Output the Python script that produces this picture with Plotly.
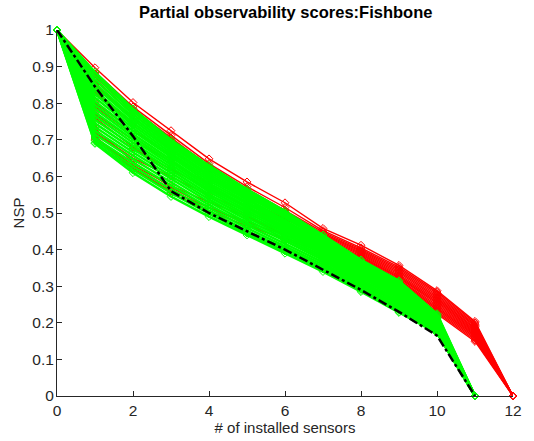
import plotly.graph_objects as go

title_text = "Partial observability scores:Fishbone"
x_title = "# of installed sensors"
y_title = "NSP"

x_red = [0, 1, 2, 3, 4, 5, 6, 7, 8, 9, 10, 11, 12]
x_green = [0, 1, 2, 3, 4, 5, 6, 7, 8, 9, 10, 11]

red_series = [
    [1, 0.897, 0.802, 0.725, 0.648, 0.585, 0.528, 0.458, 0.412, 0.357, 0.288, 0.204, 0],
    [1, 0.885, 0.790, 0.712, 0.635, 0.572, 0.515, 0.452, 0.405, 0.352, 0.284, 0.200, 0],
    [1, 0.880, 0.783, 0.705, 0.628, 0.566, 0.508, 0.448, 0.401, 0.348, 0.280, 0.196, 0],
    [1, 0.872, 0.776, 0.698, 0.622, 0.560, 0.503, 0.444, 0.398, 0.344, 0.276, 0.193, 0],
    [1, 0.862, 0.770, 0.692, 0.617, 0.556, 0.498, 0.441, 0.395, 0.340, 0.272, 0.190, 0],
    [1, 0.850, 0.760, 0.685, 0.612, 0.550, 0.494, 0.438, 0.392, 0.336, 0.268, 0.186, 0],
    [1, 0.830, 0.745, 0.675, 0.605, 0.545, 0.490, 0.434, 0.389, 0.332, 0.264, 0.183, 0],
    [1, 0.800, 0.725, 0.660, 0.595, 0.538, 0.484, 0.430, 0.386, 0.328, 0.260, 0.180, 0],
    [1, 0.770, 0.700, 0.640, 0.580, 0.528, 0.478, 0.426, 0.383, 0.325, 0.256, 0.177, 0],
    [1, 0.745, 0.675, 0.620, 0.565, 0.518, 0.470, 0.422, 0.380, 0.322, 0.252, 0.174, 0],
    [1, 0.720, 0.650, 0.600, 0.548, 0.505, 0.460, 0.418, 0.378, 0.318, 0.248, 0.171, 0],
    [1, 0.705, 0.630, 0.575, 0.530, 0.490, 0.450, 0.413, 0.375, 0.315, 0.244, 0.168, 0],
    [1, 0.700, 0.622, 0.560, 0.515, 0.475, 0.440, 0.408, 0.373, 0.312, 0.240, 0.165, 0],
    [1, 0.710, 0.620, 0.555, 0.505, 0.465, 0.430, 0.403, 0.372, 0.309, 0.236, 0.161, 0],
    [1, 0.730, 0.640, 0.570, 0.515, 0.470, 0.425, 0.398, 0.371, 0.306, 0.232, 0.157, 0],
    [1, 0.760, 0.680, 0.610, 0.545, 0.490, 0.440, 0.394, 0.370, 0.303, 0.228, 0.153, 0],
    [1, 0.790, 0.715, 0.645, 0.575, 0.515, 0.460, 0.392, 0.370, 0.300, 0.224, 0.149, 0],
]

green_series = [
    [1, 0.885, 0.785, 0.700, 0.630, 0.565, 0.505, 0.440, 0.372, 0.315, 0.225, 0],
    [1, 0.875, 0.778, 0.694, 0.624, 0.560, 0.500, 0.436, 0.368, 0.311, 0.222, 0],
    [1, 0.865, 0.770, 0.688, 0.618, 0.555, 0.496, 0.432, 0.364, 0.308, 0.220, 0],
    [1, 0.855, 0.762, 0.682, 0.612, 0.550, 0.491, 0.428, 0.360, 0.304, 0.217, 0],
    [1, 0.845, 0.755, 0.676, 0.606, 0.545, 0.487, 0.424, 0.356, 0.300, 0.215, 0],
    [1, 0.835, 0.747, 0.670, 0.600, 0.540, 0.482, 0.420, 0.352, 0.296, 0.212, 0],
    [1, 0.825, 0.740, 0.664, 0.594, 0.535, 0.478, 0.416, 0.348, 0.292, 0.210, 0],
    [1, 0.815, 0.732, 0.658, 0.588, 0.530, 0.473, 0.412, 0.344, 0.288, 0.207, 0],
    [1, 0.805, 0.724, 0.652, 0.582, 0.525, 0.468, 0.408, 0.340, 0.284, 0.204, 0],
    [1, 0.795, 0.716, 0.645, 0.576, 0.519, 0.463, 0.404, 0.336, 0.280, 0.201, 0],
    [1, 0.785, 0.708, 0.638, 0.570, 0.513, 0.458, 0.400, 0.332, 0.276, 0.198, 0],
    [1, 0.775, 0.700, 0.631, 0.564, 0.507, 0.453, 0.396, 0.328, 0.272, 0.195, 0],
    [1, 0.765, 0.692, 0.624, 0.558, 0.501, 0.448, 0.391, 0.324, 0.268, 0.192, 0],
    [1, 0.755, 0.684, 0.617, 0.551, 0.495, 0.442, 0.386, 0.319, 0.263, 0.189, 0],
    [1, 0.745, 0.675, 0.609, 0.544, 0.488, 0.436, 0.381, 0.314, 0.258, 0.186, 0],
    [1, 0.735, 0.666, 0.601, 0.537, 0.481, 0.430, 0.376, 0.309, 0.253, 0.183, 0],
    [1, 0.725, 0.657, 0.593, 0.530, 0.474, 0.424, 0.371, 0.304, 0.248, 0.180, 0],
    [1, 0.715, 0.647, 0.584, 0.522, 0.467, 0.417, 0.365, 0.299, 0.243, 0.178, 0],
    [1, 0.705, 0.637, 0.575, 0.514, 0.459, 0.410, 0.359, 0.296, 0.238, 0.176, 0],
    [1, 0.698, 0.627, 0.565, 0.506, 0.451, 0.403, 0.353, 0.292, 0.234, 0.174, 0],
    [1, 0.692, 0.618, 0.555, 0.498, 0.445, 0.396, 0.347, 0.288, 0.230, 0.173, 0],
    [1, 0.690, 0.610, 0.545, 0.490, 0.440, 0.390, 0.340, 0.285, 0.228, 0.172, 0],
]

black_series = [1, 0.845, 0.710, 0.560, 0.500, 0.450, 0.400, 0.345, 0.290, 0.230, 0.165, 0]

x_ticks = [0, 2, 4, 6, 8, 10, 12]
y_ticks = [0, 0.1, 0.2, 0.3, 0.4, 0.5, 0.6, 0.7, 0.8, 0.9, 1]

fig = go.Figure()

for ys in red_series:
    fig.add_trace(go.Scatter(
        x=x_red, y=ys, mode="lines+markers",
        line=dict(color="#ff0000", width=1.4),
        marker=dict(symbol="diamond-open", size=6, color="#ff0000", line=dict(width=1)),
        cliponaxis=False, hoverinfo="skip"))

for ys in green_series:
    fig.add_trace(go.Scatter(
        x=x_green, y=ys, mode="lines+markers",
        line=dict(color="#00ff00", width=2.5),
        marker=dict(symbol="diamond-open", size=6, color="#00ff00", line=dict(width=1)),
        cliponaxis=False, hoverinfo="skip"))

fig.add_trace(go.Scatter(
    x=x_green, y=black_series, mode="lines",
    line=dict(color="#000000", width=2.5, dash="dashdot"),
    cliponaxis=False, hoverinfo="skip"))

font_family = "Liberation Sans, Arial, Helvetica, sans-serif"
axis_color = "#262626"

fig.update_layout(
    width=534, height=441,
    margin=dict(l=57, r=20, t=30, b=42),
    paper_bgcolor="white", plot_bgcolor="white",
    showlegend=False,
    font=dict(family=font_family, size=14, color=axis_color),
    title=dict(text="<b>" + title_text + "</b>", x=0.535, xanchor="center",
               y=0.972, yanchor="middle", font=dict(size=16.5, color="#000000")),
)

fig.update_xaxes(
    range=[0, 12], tickvals=x_ticks, ticktext=[str(v) for v in x_ticks],
    showline=True, linecolor=axis_color, linewidth=1,
    ticks="inside", ticklen=5, tickcolor=axis_color,
    showgrid=False, zeroline=False, tickfont=dict(size=15.5),
    title=dict(text=x_title, standoff=0, font=dict(size=15)),
)
fig.update_yaxes(
    range=[0, 1], tickvals=y_ticks, ticktext=[("%g" % v) for v in y_ticks],
    showline=True, linecolor=axis_color, linewidth=1,
    ticks="inside", ticklen=5, tickcolor=axis_color,
    showgrid=False, zeroline=False, tickfont=dict(size=15.5),
    ticklabelstandoff=-1,
    title=dict(text=y_title, standoff=4, font=dict(size=15)),
)

fig.write_html("out.html")
